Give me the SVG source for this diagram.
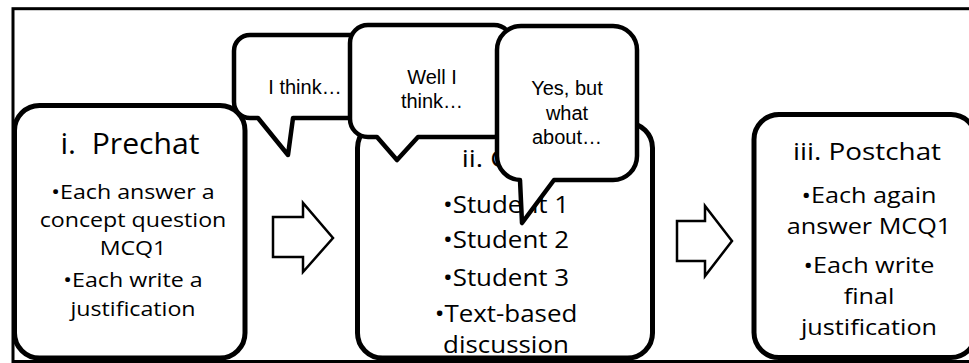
<svg xmlns="http://www.w3.org/2000/svg" width="969" height="363" viewBox="0 0 969 363">
<style>
.frame{fill:none;stroke:#000;stroke-width:3}
.box{fill:#fff;stroke:#000;stroke-width:5}
.bub{fill:#fff;stroke:#000;stroke-width:4.5;stroke-linejoin:round}
.arr{fill:#fff;stroke:#000;stroke-width:2.5;stroke-linejoin:miter}
.t{font-family:"Open Sans","Noto Sans",sans-serif;fill:#000;text-anchor:middle}
.b{font-family:"Liberation Sans",Arial,sans-serif;font-size:20px;fill:#000;text-anchor:middle}
</style>
<rect class="frame" x="13" y="8.7" width="980" height="352.8"/>

<g id="node-prechat">
<rect class="box" x="14.5" y="105.5" width="230.5" height="252.5" rx="25"/>
<g transform="translate(130 0) scale(1.04 1)"><text class="t" x="0" y="154" font-size="29">i.&#160; Prechat</text></g>
<g transform="translate(133 0) scale(1.16 1)" font-size="20">
<text class="t" x="0" y="199">•Each answer a</text>
<text class="t" x="0" y="227">concept question</text>
<text class="t" x="0" y="255">MCQ1</text>
<text class="t" x="0" y="287">•Each write a</text>
<text class="t" x="0" y="316">justification</text>
</g>
</g>

<g id="node-postchat">
<rect class="box" x="754" y="114.5" width="222" height="243" rx="25"/>
<g transform="translate(867 0) scale(1.19 1)"><text class="t" x="0" y="160" font-size="23.4">iii. Postchat</text></g>
<g transform="translate(869 0) scale(1.2 1)" font-size="21">
<text class="t" x="0" y="203">•Each again</text>
<text class="t" x="0" y="234">answer MCQ1</text>
<text class="t" x="0" y="273">•Each write</text>
<text class="t" x="0" y="304">final</text>
<text class="t" x="0" y="335">justification</text>
</g>
</g>

<g id="node-chat">
<rect class="box" x="357.5" y="123" width="295" height="235" rx="25"/>
<g transform="translate(506 0) scale(1.19 1)"><text class="t" x="0" y="167" font-size="23.4">ii. Chat</text></g>
<g transform="translate(506 0) scale(1.08 1)" font-size="24">
<text class="t" x="0" y="213">•Student 1</text>
<text class="t" x="0" y="248">•Student 2</text>
<text class="t" x="0" y="286">•Student 3</text>
<text class="t" x="0" y="322">•Text-based</text>
<text class="t" x="0" y="353">discussion</text>
</g>
</g>

<g id="connectors">
<polygon class="arr" points="273,217 303,217 303,203 333,238 303,272 303,257 273,257"/>
<polygon class="arr" points="677,221 705,221 705,206 732,241 705,276 705,261 677,261"/>
</g>

<g id="bubble-1">
<path class="bub" d="M250,35 H360 A16 16 0 0 1 376,51 V102 A16 16 0 0 1 360,118 H293 L288,155 L258,118 H250 A16 16 0 0 1 234,102 V51 A16 16 0 0 1 250,35 Z"/>
<text class="b" x="305" y="94">I think…</text>
</g>

<g id="bubble-2">
<path class="bub" d="M368,25 H494 A18 18 0 0 1 512,43 V119 A18 18 0 0 1 494,137 H418 L397,160 L377,137 H368 A18 18 0 0 1 350,119 V43 A18 18 0 0 1 368,25 Z"/>
<text class="b" x="432" y="84">Well I</text>
<text class="b" x="432" y="108">think…</text>
</g>

<g id="bubble-3">
<path class="bub" d="M521,26 H613 A24 24 0 0 1 637,50 V156 A24 24 0 0 1 613,180 H554 L522,223 L520,180 A24 24 0 0 1 497,156 V50 A24 24 0 0 1 521,26 Z"/>
<text class="b" x="567" y="95">Yes, but</text>
<text class="b" x="567" y="120">what</text>
<text class="b" x="567" y="144">about…</text>
</g>
</svg>
